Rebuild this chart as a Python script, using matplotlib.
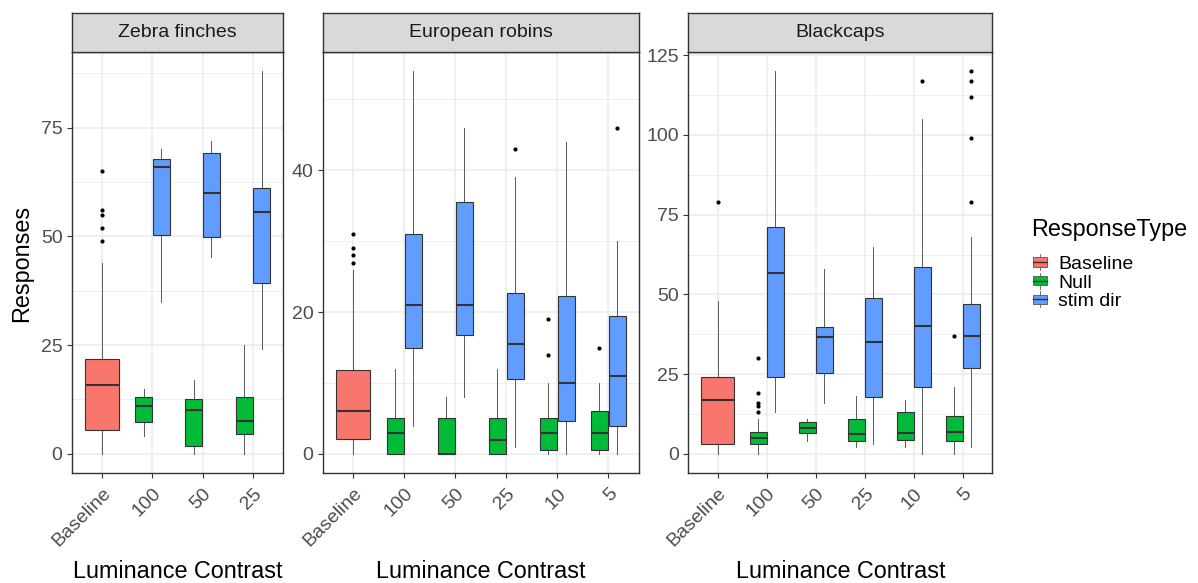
import matplotlib
matplotlib.use("Agg")
import matplotlib.pyplot as plt
from matplotlib.patches import Rectangle, Patch
from matplotlib.lines import Line2D
from matplotlib.legend_handler import HandlerBase
from matplotlib.ticker import MultipleLocator

plt.rcParams['font.family'] = ['Liberation Sans', 'DejaVu Sans']

W, H, DPI = 1198, 583, 100

RESPONSE_TYPES = ["Baseline", "Null", "stim dir"]
TYPE_COLORS = ["#F8766D", "#00BA38", "#619CFF"]

# Five-number summaries: [lower whisker, Q1, median, Q3, upper whisker]
# ---- Zebra finches ----
zf_contrasts = ["Baseline", "100", "50", "25"]
zf_baseline = [0, 5.6, 15.9, 21.9, 44]
zf_baseline_out = [49, 52, 55, 56, 65]
zf_null = [[4, 7.4, 11, 13, 15], [0, 1.9, 10, 12.7, 17], [0, 4.6, 7.5, 13.1, 25]]
zf_null_out = [[], [], []]
zf_stim = [[35, 50.4, 66, 67.9, 70], [45.2, 49.9, 60, 69.2, 71.9], [24.1, 39.4, 55.6, 61.1, 88]]
zf_stim_out = [[], [], []]

# ---- European robins ----
er_contrasts = ["Baseline", "100", "50", "25", "10", "5"]
er_baseline = [0, 2.1, 6, 11.9, 26]
er_baseline_out = [27, 28, 29, 31]
er_null = [[0, 0, 3, 5, 12], [0, 0, 0, 5, 8], [0, 0, 2, 5, 12],
           [0, 0.6, 3, 5, 10], [0, 0.5, 3, 6, 10]]
er_null_out = [[], [], [], [14, 19], [15]]
er_stim = [[4, 15, 21, 31, 54], [8, 16.75, 21, 35.5, 46], [1, 10.6, 15.5, 22.7, 39],
           [0, 4.7, 10, 22.3, 44], [0, 4, 11, 19.4, 30]]
er_stim_out = [[], [], [43], [], [46]]

# ---- Blackcaps ----
bc_contrasts = ["Baseline", "100", "50", "25", "10", "5"]
bc_baseline = [0, 3, 17, 24, 48]
bc_baseline_out = [79]
bc_null = [[0, 3, 5, 7, 11], [4, 6.4, 8, 10, 11], [2, 4, 6.2, 11, 18],
           [2, 4.5, 6.6, 13, 17], [0, 4, 7, 12, 21]]
bc_null_out = [[13, 15, 16, 19, 30], [], [], [], [37]]
bc_stim = [[13, 24.2, 56.6, 71, 120], [16, 25.5, 36.5, 39.7, 58], [3, 17.8, 35, 49, 65],
           [0, 21, 40, 58.5, 105], [2, 27, 37, 47, 68]]
bc_stim_out = [[], [], [], [117], [79, 99, 112, 117, 120]]

species = ["Zebra finches", "European robins", "Blackcaps"]
y_major_steps = [25, 20, 25]

PANELS = [
    (zf_contrasts, zf_baseline, zf_baseline_out, zf_null, zf_null_out, zf_stim, zf_stim_out),
    (er_contrasts, er_baseline, er_baseline_out, er_null, er_null_out, er_stim, er_stim_out),
    (bc_contrasts, bc_baseline, bc_baseline_out, bc_null, bc_null_out, bc_stim, bc_stim_out),
]

# panel pixel boxes (left, right); all share top/bottom
PANEL_X = [(72, 283), (322.7, 639), (688.3, 992.3)]
PANEL_TOP, PANEL_BOTTOM, STRIP_TOP = 52, 473, 13

EDGE = "#333333"
GRID = "#EBEBEB"


def px_axes(fig, x0, y0, x1, y1):
    return fig.add_axes([x0 / W, 1 - y1 / H, (x1 - x0) / W, (y1 - y0) / H])


def make_stats(five, fliers):
    lo, q1, med, q3, hi = five
    return dict(whislo=lo, q1=q1, med=med, q3=q3, whishi=hi, fliers=list(fliers))


def draw_panel(ax, contrasts, base, base_out, null, null_out, stim, stim_out, step):
    stats, pos, widths, colors = [], [], [], []
    stats.append(make_stats(base, base_out))
    pos.append(1)
    widths.append(0.67)
    colors.append(TYPE_COLORS[0])
    for i in range(len(null)):
        x = i + 2
        stats.append(make_stats(null[i], null_out[i]))
        pos.append(x - 0.175)
        widths.append(0.34)
        colors.append(TYPE_COLORS[1])
        stats.append(make_stats(stim[i], stim_out[i]))
        pos.append(x + 0.175)
        widths.append(0.34)
        colors.append(TYPE_COLORS[2])

    art = ax.bxp(stats, positions=pos, widths=widths, patch_artist=True,
                 showcaps=False, manage_ticks=False,
                 boxprops=dict(edgecolor=EDGE, linewidth=0.8),
                 whiskerprops=dict(color="#5a5a5a", linewidth=0.7),
                 medianprops=dict(color=EDGE, linewidth=1.5),
                 flierprops=dict(marker="o", markersize=3, markerfacecolor="black",
                                 markeredgecolor="none", linestyle="none"))
    for patch, c in zip(art["boxes"], colors):
        patch.set_facecolor(c)
        patch.set_zorder(3)
    for key in ("medians", "whiskers", "fliers"):
        for a in art[key]:
            a.set_zorder(4 if key != "whiskers" else 2.5)

    # y range from the data with a 5 % expansion on each side
    vals = list(base) + list(base_out)
    for grp in (null, null_out, stim, stim_out):
        for g in grp:
            vals += list(g)
    lo, hi = min(vals), max(vals)
    pad = 0.05 * (hi - lo)
    ax.set_ylim(lo - pad, hi + pad)
    n = len(contrasts)
    ax.set_xlim(0.4, n + 0.6)

    ax.yaxis.set_major_locator(MultipleLocator(step))
    ax.yaxis.set_minor_locator(MultipleLocator(step / 2))
    ax.set_xticks(range(1, n + 1))
    ax.set_xticklabels(contrasts, rotation=45, ha="right", va="top",
                       rotation_mode="anchor")
    ax.set_axisbelow(True)
    ax.grid(which="major", color=GRID, linewidth=1.1)
    ax.grid(which="minor", axis="y", color=GRID, linewidth=0.55)
    ax.tick_params(which="major", direction="out", length=3.6, width=0.8,
                   color=EDGE, labelcolor="#4D4D4D", labelsize=14, pad=3.2)
    ax.tick_params(axis="x", which="major", pad=5.0)
    ax.tick_params(which="minor", length=0)
    for s in ax.spines.values():
        s.set_color(EDGE)
        s.set_linewidth(1.0)
        s.set_zorder(6)


class BoxKeyHandler(HandlerBase):
    def create_artists(self, legend, orig_handle, xdescent, ydescent,
                       width, height, fontsize, trans):
        fc = orig_handle.get_facecolor()
        x0, y0 = -xdescent, -ydescent
        cx = x0 + width / 2
        whisk = Line2D([cx, cx], [y0 - 0.15 * height, y0 + 1.15 * height],
                       color="#5a5a5a", lw=0.6, transform=trans)
        box = Rectangle((x0, y0 + 0.12 * height), width, 0.76 * height,
                        facecolor=fc, edgecolor="#555555", lw=0.6, transform=trans)
        med = Line2D([x0, x0 + width], [y0 + height / 2] * 2,
                     color=EDGE, lw=1.0, transform=trans)
        return [whisk, box, med]


fig = plt.figure(figsize=(W / DPI, H / DPI), dpi=DPI)
fig.patch.set_facecolor("white")

for (x0, x1), name, step, panel in zip(PANEL_X, species, y_major_steps, PANELS):
    ax = px_axes(fig, x0, PANEL_TOP, x1, PANEL_BOTTOM)
    draw_panel(ax, *panel, step)

    strip = px_axes(fig, x0, STRIP_TOP, x1, PANEL_TOP)
    strip.set_facecolor("#D9D9D9")
    strip.set_xticks([])
    strip.set_yticks([])
    for s in strip.spines.values():
        s.set_color(EDGE)
        s.set_linewidth(1.0)
    strip.text(0.5, 0.5, name, ha="center", va="center", fontsize=14,
               color="#1A1A1A", transform=strip.transAxes)

    fig.text((x0 + x1) / 2 / W, 1 - 578 / H, "Luminance Contrast",
             ha="center", va="baseline", fontsize=16.8, color="black")

fig.text(22 / W, 1 - 263 / H, "Responses", rotation=90, ha="center",
         va="center", fontsize=16.8, color="black")

# legend: title set as its own text, entries below it
fig.text(1031 / W, 1 - 236 / H, "ResponseType", ha="left", va="baseline",
         fontsize=16.8, color="black")
handles = [Patch(facecolor=c, label=n) for n, c in zip(RESPONSE_TYPES, TYPE_COLORS)]
fig.legend(handles=handles, handler_map={Patch: BoxKeyHandler()},
           loc="upper left", bbox_to_anchor=(1032.5 / W, 1 - 256 / H),
           frameon=False, fontsize=14, handlelength=0.72,
           handleheight=0.6, handletextpad=0.6, labelspacing=0.08,
           borderpad=0, borderaxespad=0)

fig.savefig("out.png", dpi=DPI)
